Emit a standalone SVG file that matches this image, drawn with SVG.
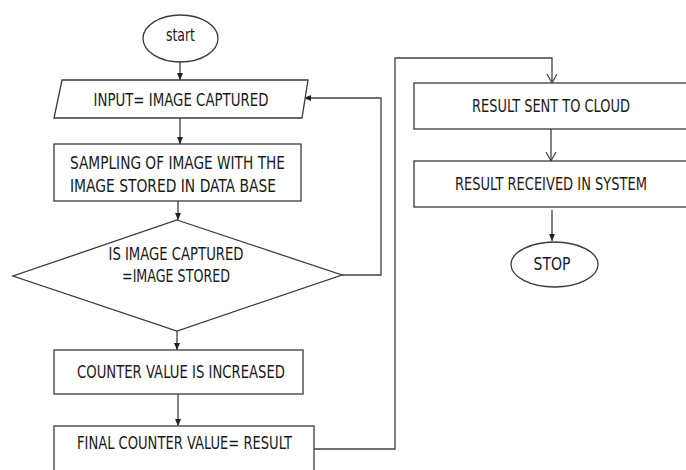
<svg xmlns="http://www.w3.org/2000/svg" width="686" height="470" viewBox="0 0 686 470">
  <style>
    .shape { fill: #ffffff; stroke: #3a3a3a; stroke-width: 1.3; }
    .conn { fill: none; stroke: #404040; stroke-width: 1.3; }
    .label { font-family: "DejaVu Sans Condensed", "Liberation Sans Narrow", "Liberation Sans", sans-serif; font-stretch: condensed; font-size: 17px; fill: #1a1a1a; text-anchor: middle; }
  </style>
  <defs>
    <marker id="tri" markerWidth="8" markerHeight="8" refX="7" refY="4" orient="auto" markerUnits="userSpaceOnUse">
      <path d="M0,1 L7,4 L0,7 Z" fill="#202020"/>
    </marker>
    <marker id="vee" markerWidth="10" markerHeight="12" refX="9" refY="6" orient="auto" markerUnits="userSpaceOnUse">
      <path d="M0,1 L9,6 L0,11" fill="none" stroke="#404040" stroke-width="1.2"/>
    </marker>
  </defs>

  <g id="connectors">
    <line class="conn" x1="180" y1="62" x2="180" y2="80" marker-end="url(#tri)"/>
    <line class="conn" x1="180" y1="118" x2="180" y2="144" marker-end="url(#tri)"/>
    <line class="conn" x1="178" y1="201" x2="178" y2="220" marker-end="url(#tri)"/>
    <polyline class="conn" points="342,275 381,275 381,98 304,98" marker-end="url(#tri)"/>
    <line class="conn" x1="177" y1="331" x2="177" y2="350" marker-end="url(#tri)"/>
    <line class="conn" x1="178" y1="394" x2="178" y2="426" marker-end="url(#tri)"/>
    <polyline class="conn" points="314,449 395,449 395,58 552,58 552,83" marker-end="url(#vee)"/>
    <line class="conn" x1="551" y1="129" x2="551" y2="161" marker-end="url(#vee)"/>
    <line class="conn" x1="552" y1="210" x2="552" y2="241" marker-end="url(#tri)"/>
  </g>

  <g id="start">
    <ellipse class="shape" cx="180.5" cy="38.5" rx="37.5" ry="23.5"/>
    <text class="label" x="180.5" y="41" textLength="29" lengthAdjust="spacingAndGlyphs">start</text>
  </g>

  <g id="input">
    <polygon class="shape" points="62,80 308,80 302,118 54,118"/>
    <text class="label" x="181" y="106" textLength="175" lengthAdjust="spacingAndGlyphs">INPUT= IMAGE CAPTURED</text>
  </g>

  <g id="sampling">
    <rect class="shape" x="54" y="144" width="247" height="57"/>
    <text class="label" x="177.5" y="169" textLength="215" lengthAdjust="spacingAndGlyphs">SAMPLING OF IMAGE WITH THE</text>
    <text class="label" x="173" y="192" textLength="206" lengthAdjust="spacingAndGlyphs">IMAGE STORED IN DATA BASE</text>
  </g>

  <g id="decision">
    <polygon class="shape" points="177,220 342,275 177,331 13,276"/>
    <text class="label" x="176" y="260" textLength="135" lengthAdjust="spacingAndGlyphs">IS IMAGE CAPTURED</text>
    <text class="label" x="176" y="282" textLength="108" lengthAdjust="spacingAndGlyphs">=IMAGE STORED</text>
  </g>

  <g id="counter">
    <rect class="shape" x="54" y="350" width="249" height="44"/>
    <text class="label" x="181" y="378" textLength="208" lengthAdjust="spacingAndGlyphs">COUNTER VALUE IS INCREASED</text>
  </g>

  <g id="final">
    <rect class="shape" x="54" y="426" width="260" height="60"/>
    <text class="label" x="184.5" y="449" textLength="215" lengthAdjust="spacingAndGlyphs">FINAL COUNTER VALUE= RESULT</text>
  </g>

  <g id="cloud">
    <rect class="shape" x="414" y="83" width="290" height="46"/>
    <text class="label" x="551" y="112" textLength="158" lengthAdjust="spacingAndGlyphs">RESULT SENT TO CLOUD</text>
  </g>

  <g id="received">
    <rect class="shape" x="414" y="161" width="290" height="46"/>
    <text class="label" x="551" y="190" textLength="192" lengthAdjust="spacingAndGlyphs">RESULT RECEIVED IN SYSTEM</text>
  </g>

  <g id="stop">
    <ellipse class="shape" cx="554.5" cy="264.5" rx="43.5" ry="22.5"/>
    <text class="label" x="552" y="270" textLength="37" lengthAdjust="spacingAndGlyphs">STOP</text>
  </g>
</svg>
